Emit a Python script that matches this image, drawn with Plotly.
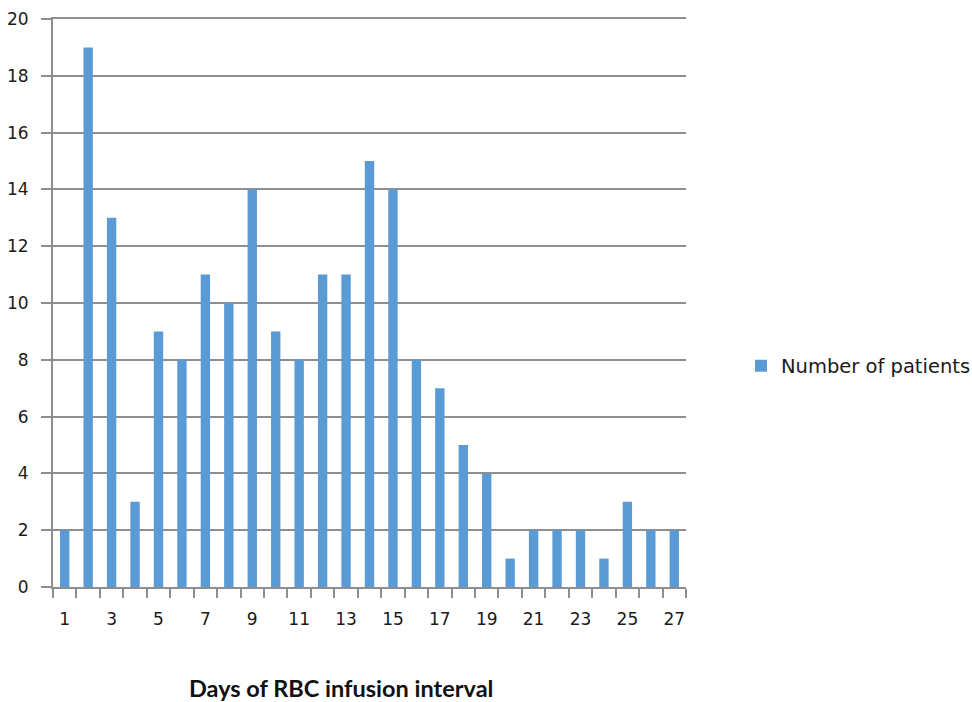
import plotly.graph_objects as go

# Days between red blood cell infusions and how many patients fall in each
days = list(range(1, 28))
patients = [2, 19, 13, 3, 9, 8, 11, 10, 14, 9, 8, 11, 11, 15, 14, 8, 7, 5, 4, 1, 2, 2, 2, 1, 3, 2, 2]
x_tick_labels = [str(d) for d in days if d % 2 == 1]
y_ticks = list(range(0, 21, 2))

bar_color = "#5b9bd5"
grid_color = "#8e8e8e"
label_font = dict(family="DejaVu Sans", size=17, color="#1a1a1a")

W, H = 972, 702
L, R, T, B = 53, 286, 19, 115

fig = go.Figure()
fig.add_trace(go.Bar(
    x=days,
    y=patients,
    name="Number of patients",
    marker=dict(color=bar_color, line=dict(width=0)),
))

fig.update_layout(
    width=W,
    height=H,
    margin=dict(l=L, r=R, t=T, b=B, autoexpand=False),
    paper_bgcolor="white",
    plot_bgcolor="white",
    bargap=0.6,
    showlegend=True,
    legend=dict(
        xref="container", yref="container",
        x=741 / W, y=1 - 366 / H, xanchor="left", yanchor="middle",
        font=dict(family="DejaVu Sans", size=19.5, color="#1a1a1a"),
        itemwidth=30,
    ),
    xaxis=dict(
        range=[0.5, 27.5],
        tickmode="array",
        tickvals=[int(t) for t in x_tick_labels],
        ticktext=x_tick_labels,
        ticks="",
        showgrid=False,
        zeroline=False,
        showline=True,
        mirror=True,
        linecolor=grid_color,
        linewidth=2,
        tickfont=label_font,
        ticklabelstandoff=16,
        minor=dict(ticks="outside", tick0=0.5, dtick=1, ticklen=9,
                   tickcolor=grid_color, tickwidth=2, showgrid=False),
        automargin=False,
        fixedrange=True,
    ),
    yaxis=dict(
        range=[0, 20],
        tickmode="array",
        tickvals=y_ticks,
        ticks="outside",
        ticklen=10,
        tickwidth=2,
        tickcolor=grid_color,
        showgrid=True,
        gridcolor=grid_color,
        gridwidth=2,
        zeroline=False,
        showline=True,
        linecolor=grid_color,
        linewidth=2,
        tickfont=label_font,
        ticklabelstandoff=9,
        automargin=False,
        fixedrange=True,
    ),
    annotations=[dict(
        text="<b>Days of RBC infusion interval</b>",
        xref="paper", yref="paper",
        x=(341 - L) / (W - L - R), y=-(688 - (H - B)) / (H - T - B),
        xanchor="center", yanchor="middle",
        showarrow=False,
        font=dict(family="Lato", size=23.5, color="#111"),
    )],
)

fig.write_html("out.html")
